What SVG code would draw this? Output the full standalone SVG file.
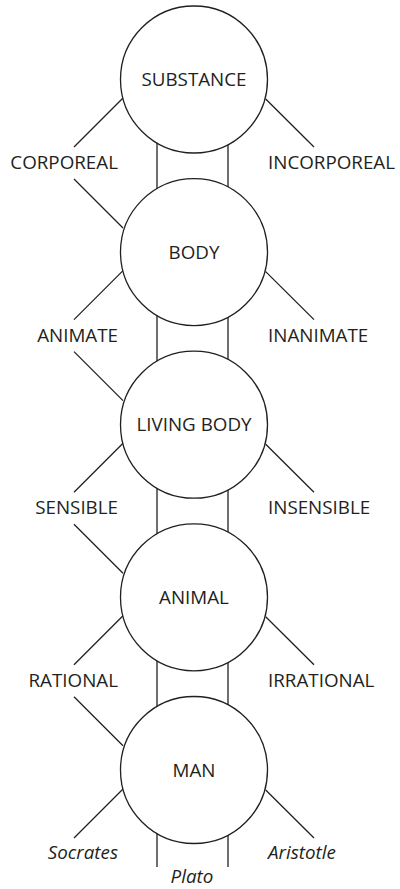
<svg xmlns="http://www.w3.org/2000/svg" width="400" height="889" viewBox="0 0 400 889">
<style>
.c{fill:#fff;stroke:#231f20;stroke-width:1.3}
.l{stroke:#231f20;stroke-width:1.3;fill:none}
text{font-family:"Open Sans","Liberation Sans",sans-serif;font-size:18.8px;fill:#231f20}
.n{text-anchor:middle}
.lt{text-anchor:end}
.i{font-style:italic}
</style>
<rect width="400" height="889" fill="#fff"/>
<g id="connectors">
<line class="l" x1="157" y1="79.5" x2="157" y2="252.1"/>
<line class="l" x1="228" y1="79.5" x2="228" y2="252.1"/>
<line class="l" x1="157" y1="252.1" x2="157" y2="424.7"/>
<line class="l" x1="228" y1="252.1" x2="228" y2="424.7"/>
<line class="l" x1="157" y1="424.7" x2="157" y2="597.3"/>
<line class="l" x1="228" y1="424.7" x2="228" y2="597.3"/>
<line class="l" x1="157" y1="597.3" x2="157" y2="770"/>
<line class="l" x1="228" y1="597.3" x2="228" y2="770"/>
<line class="l" x1="157" y1="770" x2="157" y2="867"/>
<line class="l" x1="228" y1="770" x2="228" y2="867"/>
<path class="l" d="M123,98 L74,147 M74,179 L123,228 M265.7,99 L314,147"/>
<path class="l" d="M123,270.6 L74,319.6 M74,351.6 L123,400.6 M265.7,271.6 L314,319.6"/>
<path class="l" d="M123,443.2 L74,492.2 M74,524.2 L123,573.2 M265.7,444.2 L314,492.2"/>
<path class="l" d="M123,615.8 L74,664.8 M74,696.8 L123,745.8 M265.7,616.8 L314,664.8"/>
<path class="l" d="M123,789 L74,838 M265.7,790 L314,838"/>
</g>
<g id="substance"><circle class="c" cx="194" cy="79.5" r="73.5"/><text class="n" x="194" y="86">SUBSTANCE</text></g>
<g id="body"><circle class="c" cx="194" cy="252.1" r="73.5"/><text class="n" x="194" y="258.6">BODY</text></g>
<g id="living-body"><circle class="c" cx="194" cy="424.7" r="73.5"/><text class="n" x="194" y="431.2">LIVING BODY</text></g>
<g id="animal"><circle class="c" cx="194" cy="597.3" r="73.5"/><text class="n" x="194" y="603.8">ANIMAL</text></g>
<g id="man"><circle class="c" cx="194" cy="770" r="73.5"/><text class="n" x="194" y="776.5">MAN</text></g>
<g id="labels">
<text class="lt" x="118" y="169">CORPOREAL</text>
<text x="268" y="169">INCORPOREAL</text>
<text class="lt" x="118" y="341.6">ANIMATE</text>
<text x="268" y="341.6">INANIMATE</text>
<text class="lt" x="118" y="514.2">SENSIBLE</text>
<text x="268" y="514.2">INSENSIBLE</text>
<text class="lt" x="118" y="686.8">RATIONAL</text>
<text x="268" y="686.8">IRRATIONAL</text>
<text class="lt i" x="118" y="859">Socrates</text>
<text class="i" x="268" y="859">Aristotle</text>
<text class="n i" x="192" y="883">Plato</text>
</g>
</svg>
